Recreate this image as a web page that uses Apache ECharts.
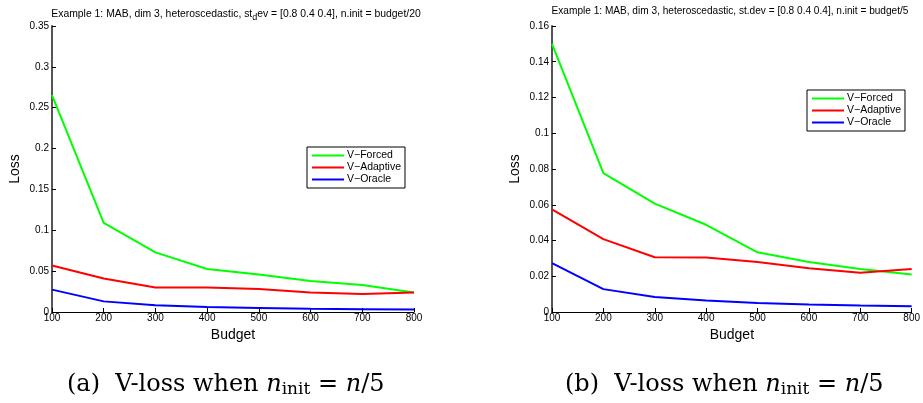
<!DOCTYPE html>
<html><head><meta charset="utf-8">
<script src="https://cdn.jsdelivr.net/npm/echarts@6/dist/echarts.min.js"></script>
<style>html,body{margin:0;padding:0;background:#fff}#c{width:923px;height:403px}</style>
</head><body><div id="c"></div>
<script>
var budget = [100, 200, 300, 400, 500, 600, 700, 800];
var seriesNames = ['V\u2212Forced', 'V\u2212Adaptive', 'V\u2212Oracle'];
// (a) n.init = budget/20
var forcedA   = [0.2655, 0.109, 0.073, 0.0527, 0.046, 0.038, 0.033, 0.024];
var adaptiveA = [0.057, 0.041, 0.030, 0.030, 0.028, 0.024, 0.022, 0.024];
var oracleA   = [0.0274, 0.013, 0.0082, 0.006, 0.005, 0.004, 0.0035, 0.003];
// (b) n.init = budget/5
var forcedB   = [0.150, 0.0777, 0.0606, 0.0488, 0.0334, 0.028, 0.024, 0.021];
var adaptiveB = [0.0574, 0.0408, 0.0306, 0.0305, 0.028, 0.0245, 0.022, 0.024];
var oracleB   = [0.0274, 0.0128, 0.0084, 0.0064, 0.005, 0.0042, 0.0036, 0.0032];
var yTicksA = [0, 0.35, 0.05];
var yTicksB = [0, 0.16, 0.02];
var xTicks = [100, 800, 100];

var colors = ['#00ff00', '#ff0000', '#0000ff'];
var FONT = 'Liberation Sans';

function pairs(vals){ return budget.map(function(b,i){ return [b, vals[i]]; }); }

function xAxis(idx){
  return {
    type:'value', gridIndex:idx, min:xTicks[0], max:xTicks[1], interval:xTicks[2],
    name:'Budget', nameLocation:'middle', nameGap:16,
    nameTextStyle:{fontFamily:FONT, fontSize:14, color:'#000'},
    axisLine:{lineStyle:{color:'#000', width:1}},
    axisTick:{inside:true, length:4, lineStyle:{color:'#000'}},
    axisLabel:{fontFamily:FONT, fontSize:10, color:'#000', margin:1},
    splitLine:{show:false}
  };
}
function yAxis(idx, t){
  return {
    type:'value', gridIndex:idx, min:t[0], max:t[1], interval:t[2],
    name:'Loss', nameLocation:'middle', nameGap:30,
    nameTextStyle:{fontFamily:FONT, fontSize:14, color:'#000'},
    axisLine:{show:true, lineStyle:{color:'#555', width:2}},
    axisTick:{show:true, inside:true, length:4, lineStyle:{color:'#000'}},
    axisLabel:{fontFamily:FONT, fontSize:10, color:'#000', margin:3},
    splitLine:{show:false}
  };
}
function line(name, vals, idx, ci){
  return {
    type:'line', name:name, xAxisIndex:idx, yAxisIndex:idx, data:pairs(vals),
    symbol:'none', lineStyle:{color:colors[ci], width:2}, itemStyle:{color:colors[ci]},
    animation:false
  };
}
function legend(left, top){
  return {
    data:seriesNames, orient:'vertical', left:left, top:top,
    backgroundColor:'#fff', borderColor:'#000', borderWidth:1, borderRadius:0,
    padding:[3,4,3,5], itemGap:1, itemWidth:32, itemHeight:2, icon:'rect',
    textStyle:{fontFamily:FONT, fontSize:10.5, color:'#000', padding:[0,0,0,-2]},
    selectedMode:false
  };
}
function captionRich(){
  return {
    t:{fontFamily:'DejaVu Serif', fontSize:24, fill:'#000'},
    i:{fontFamily:'DejaVu Serif', fontSize:24, fontStyle:'italic', fill:'#000'},
    s:{fontFamily:'DejaVu Serif', fontSize:17, fill:'#000', padding:[10,0,0,0]}
  };
}

var chart = echarts.init(document.getElementById('c'), null, {renderer:'canvas'});
chart.setOption({
  backgroundColor:'#fff',
  animation:false,
  title:[
    {text:'Example 1: MAB, dim 3, heteroscedastic, st{s|d}ev = [0.8 0.4 0.4], n.init = budget/20',
     left:231, top:1, textAlign:'center',
     textStyle:{fontFamily:FONT, fontSize:10.4, fontWeight:'normal', color:'#000',
       rich:{s:{fontFamily:FONT, fontSize:9, color:'#000', padding:[7,0,0,0]}}}},
    {text:'Example 1: MAB, dim 3, heteroscedastic, st.dev = [0.8 0.4 0.4], n.init = budget/5',
     left:725, top:1, textAlign:'center',
     textStyle:{fontFamily:FONT, fontSize:10.1, fontWeight:'normal', color:'#000'}}
  ],
  grid:[
    {left:52, top:26, width:362, height:286},
    {left:552, top:26, width:363, height:286}
  ],
  xAxis:[xAxis(0), xAxis(1)],
  yAxis:[yAxis(0, yTicksA), yAxis(1, yTicksB)],
  legend:[legend(307,147), legend(807,90)],
  series:[
    line(seriesNames[0], forcedA, 0, 0),
    line(seriesNames[1], adaptiveA, 0, 1),
    line(seriesNames[2], oracleA, 0, 2),
    line(seriesNames[0], forcedB, 1, 0),
    line(seriesNames[1], adaptiveB, 1, 1),
    line(seriesNames[2], oracleB, 1, 2)
  ],
  graphic:[
    {type:'text', left:67, top:373, style:{text:'{t|(a)  V-loss when }{i|n}{s|init}{t| = }{i|n}{t|/5}', rich:captionRich()}},
    {type:'text', left:565, top:373, style:{text:'{t|(b)  V-loss when }{i|n}{s|init}{t| = }{i|n}{t|/5}', rich:captionRich()}}
  ]
});
</script></body></html>
